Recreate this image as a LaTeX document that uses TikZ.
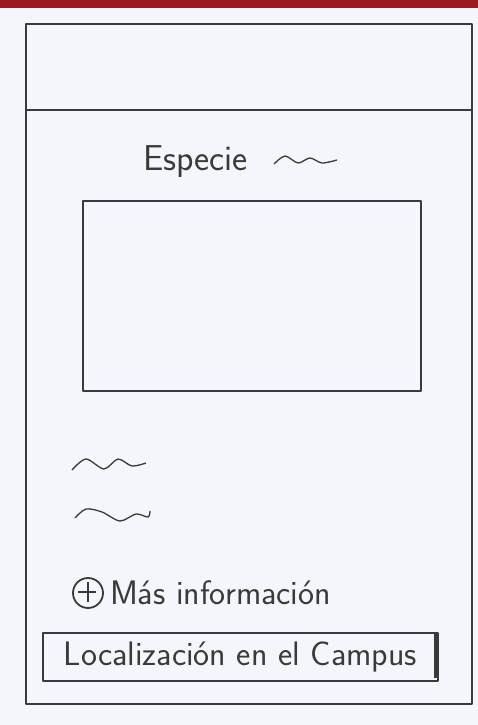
\documentclass[tikz,border=0pt]{standalone}
\usepackage{tikz}
\usetikzlibrary{
        positioning,
        shapes
    }
\definecolor{paper}{HTML}{F3F6FA}
\definecolor{pencil}{HTML}{3A3A3A}
\definecolor{banner}{HTML}{9B1B20}
\tikzset{sketch/.style={draw=pencil,line width=1.8pt,line join=round}}
\tikzset{hand/.style={text=pencil,font=\sffamily,inner sep=0pt}}

\begin{document}
\begin{tikzpicture}[x=1pt,y=-1pt]
                    \useasboundingbox (0,0) rectangle (478,725);
                    \fill[paper] (0,0) rectangle (478,725);
                    \fill[banner] (0,0) rectangle (478,8);

                        % phone frame and header
                        \draw[sketch] (26,24) rectangle (472,704);
                        \draw[sketch] (26,110) -- (472,110);

                        % title
                        \node[hand,font=\sffamily\fontsize{36}{40}\selectfont,anchor=base west] (titulo) at (143,170) {Especie};
                        \draw[sketch,line width=1.3pt] plot[smooth] coordinates {(274,164) (285,156) (298,163) (310,158) (322,163) (337,160)};

                        % picture box
                        \node[sketch,minimum width=338pt,minimum height=190pt,inner sep=0pt,anchor=north west] (foto) at (82,200) {};

                        % text lines
                        \draw[sketch,line width=1.3pt] plot[smooth] coordinates {(72,470) (86,459) (104,469) (118,459) (132,466) (146,463)};
                        \draw[sketch,line width=1.3pt] plot[smooth] coordinates {(75,518) (86,509) (102,512) (120,521) (136,514) (148,517) (150,511)};

                        % more info
                        \node[sketch,circle,minimum size=30pt,inner sep=0pt] (mas) at (88,593) {};
                        \draw[sketch,line width=2pt] (mas.north) ++(0,5) -- ++(0,20);
                        \draw[sketch,line width=2pt] (mas.west) ++(6,-1) -- ++(18,0);
                        \node[hand,font=\sffamily\fontsize{34}{38}\selectfont,anchor=west] (info) [right=6pt of mas] {Más información};

                        % location button
                        \node[sketch,minimum width=395pt,minimum height=48pt,inner sep=0pt,anchor=north west] (boton) at (42,632) {};
                        \draw[pencil,line width=3.5pt] (boton.north east) ++(-3,2) -- ++(0,44);
                        \node[hand,font=\sffamily\fontsize{34}{38}\selectfont] (lugar) at (boton.center) {Localización en el Campus};
            \end{tikzpicture}
\end{document}
